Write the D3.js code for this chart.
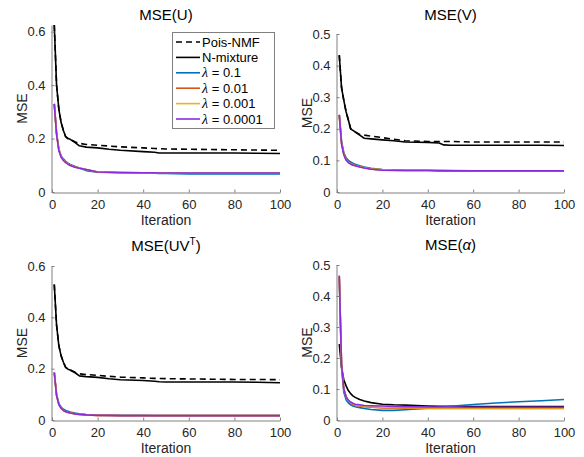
<!DOCTYPE html>
<html><head><meta charset="utf-8">
<script src="https://cdn.jsdelivr.net/npm/d3@7"></script>
<style>body{margin:0;background:#fff}svg{display:block;font-family:"Liberation Sans",Arial,sans-serif}</style>
</head><body><svg id="c" width="584" height="457"></svg>
<script>
const iters = [1,2,3,4,5,6,7,8,10,12,15,20,25,30,40,45,47,50,60,70,80,90,100];
const seriesNames = ["Pois-NMF","N-mixture","λ = 0.1","λ = 0.01","λ = 0.001","λ = 0.0001"];
const xTicks = [0,20,40,60,80,100];

// MSE(U)
const uPois  = [0.625,0.40,0.31,0.26,0.23,0.207,0.200,0.197,0.188,0.182,0.178,0.175,0.172,0.169,0.165,0.163,0.162,0.161,0.160,0.159,0.158,0.157,0.156];
const uNmix  = [0.625,0.40,0.31,0.26,0.23,0.207,0.200,0.197,0.186,0.173,0.168,0.165,0.160,0.156,0.151,0.149,0.146,0.146,0.146,0.146,0.146,0.145,0.144];
const uL1    = [0.33,0.22,0.16,0.135,0.124,0.115,0.108,0.103,0.096,0.090,0.080,0.074,0.073,0.072,0.071,0.070,0.069,0.069,0.068,0.068,0.068,0.068,0.068];
const uL2    = [0.33,0.22,0.16,0.133,0.121,0.112,0.106,0.101,0.094,0.090,0.084,0.075,0.074,0.073,0.072,0.072,0.071,0.071,0.071,0.071,0.071,0.071,0.071];
const uL3    = [0.33,0.218,0.158,0.132,0.120,0.111,0.105,0.100,0.094,0.090,0.084,0.075,0.074,0.073,0.072,0.072,0.071,0.071,0.071,0.071,0.071,0.071,0.071];
const uL4    = [0.33,0.215,0.155,0.130,0.118,0.110,0.104,0.099,0.093,0.089,0.084,0.075,0.074,0.073,0.072,0.072,0.071,0.071,0.071,0.071,0.071,0.071,0.071];
const uTicks = [0,0.2,0.4,0.6];

// MSE(V)
const vPois  = [0.433,0.33,0.29,0.254,0.228,0.200,0.195,0.190,0.182,0.180,0.177,0.172,0.167,0.162,0.160,0.160,0.160,0.160,0.158,0.158,0.158,0.158,0.158];
const vNmix  = [0.433,0.33,0.29,0.254,0.228,0.200,0.195,0.190,0.180,0.170,0.168,0.165,0.162,0.158,0.157,0.155,0.149,0.148,0.148,0.148,0.148,0.148,0.147];
const vL1    = [0.244,0.16,0.125,0.108,0.100,0.095,0.091,0.088,0.083,0.079,0.075,0.071,0.070,0.069,0.069,0.068,0.068,0.068,0.067,0.067,0.067,0.067,0.067];
const vL2    = [0.244,0.155,0.120,0.103,0.095,0.090,0.087,0.084,0.080,0.077,0.073,0.070,0.069,0.068,0.068,0.068,0.068,0.067,0.067,0.067,0.067,0.067,0.067];
const vL3    = [0.244,0.154,0.119,0.102,0.094,0.089,0.086,0.084,0.080,0.077,0.073,0.070,0.069,0.068,0.068,0.068,0.068,0.067,0.067,0.067,0.067,0.067,0.067];
const vL4    = [0.244,0.152,0.118,0.101,0.093,0.088,0.085,0.083,0.079,0.076,0.072,0.069,0.068,0.068,0.068,0.067,0.067,0.067,0.067,0.067,0.067,0.067,0.067];
const vTicks = [0,0.1,0.2,0.3,0.4,0.5];

// MSE(UV^T)
const wPois  = [0.528,0.37,0.29,0.25,0.225,0.205,0.198,0.195,0.186,0.180,0.177,0.174,0.170,0.167,0.164,0.162,0.162,0.161,0.160,0.159,0.158,0.158,0.157];
const wNmix  = [0.528,0.37,0.29,0.25,0.225,0.205,0.198,0.195,0.185,0.172,0.169,0.166,0.161,0.157,0.154,0.151,0.149,0.148,0.148,0.148,0.148,0.147,0.145];
const wL1    = [0.185,0.10,0.065,0.050,0.042,0.037,0.034,0.031,0.027,0.024,0.021,0.019,0.018,0.018,0.018,0.017,0.017,0.017,0.017,0.017,0.017,0.017,0.017];
const wL2    = [0.185,0.096,0.061,0.046,0.038,0.033,0.030,0.028,0.025,0.022,0.020,0.018,0.018,0.017,0.017,0.017,0.017,0.017,0.017,0.017,0.017,0.017,0.017];
const wL3    = [0.185,0.095,0.060,0.045,0.037,0.032,0.029,0.027,0.024,0.022,0.020,0.018,0.018,0.017,0.017,0.017,0.017,0.017,0.017,0.017,0.017,0.017,0.017];
const wL4    = [0.185,0.095,0.060,0.045,0.037,0.032,0.029,0.027,0.024,0.022,0.020,0.018,0.018,0.017,0.017,0.017,0.017,0.017,0.017,0.017,0.017,0.017,0.017];
const wTicks = [0,0.2,0.4,0.6];

// MSE(alpha)
const aNmix  = [0.245,0.17,0.13,0.11,0.095,0.085,0.078,0.073,0.066,0.061,0.056,0.051,0.049,0.048,0.045,0.044,0.044,0.044,0.043,0.043,0.043,0.043,0.043];
const aL1    = [0.46,0.17,0.09,0.065,0.055,0.049,0.045,0.043,0.040,0.037,0.034,0.031,0.031,0.033,0.038,0.041,0.042,0.044,0.050,0.055,0.059,0.062,0.066];
const aL2    = [0.465,0.18,0.10,0.074,0.062,0.054,0.050,0.047,0.045,0.043,0.041,0.039,0.038,0.038,0.037,0.037,0.037,0.037,0.037,0.037,0.037,0.037,0.037];
const aL3    = [0.465,0.18,0.10,0.075,0.063,0.056,0.052,0.049,0.047,0.045,0.043,0.041,0.040,0.040,0.039,0.039,0.039,0.039,0.039,0.039,0.039,0.039,0.039];
const aL4    = [0.465,0.18,0.10,0.075,0.064,0.058,0.054,0.051,0.049,0.047,0.046,0.045,0.044,0.043,0.042,0.042,0.042,0.042,0.041,0.041,0.041,0.041,0.041];
const aTicks = [0,0.1,0.2,0.3,0.4,0.5];

const colors = ["#000000","#000000","#0072BD","#D95319","#EDB120","#8a2be2"];
const dashes = ["6,4",null,null,null,null,null];

const svg = d3.select("#c");
const fmt = d => d === 0 ? "0" : d3.format(".1f")(d);
const axisCol = "#808080", textCol = "#262626";

function panel(id, makeTitle, x0, x1, yBot, yTop, ymax, yTicks, series, titleY, showLegend) {
  const x = d3.scaleLinear().domain([0,100]).range([x0,x1]);
  const y = d3.scaleLinear().domain([0,ymax]).range([yBot,yTop]);
  const g = svg.append("g");
  svg.append("clipPath").attr("id","clip"+id).append("rect")
    .attr("x",x0).attr("y",yTop-1).attr("width",x1-x0+1).attr("height",yBot-yTop+1);

  const line = d3.line().x((d,i)=>x(iters[i])).y(d=>y(d));
  const lg = g.append("g").attr("clip-path","url(#clip"+id+")");
  series.forEach((s,k)=>{
    if (!s) return;
    lg.append("path").datum(s).attr("d",line).attr("fill","none")
      .attr("stroke",colors[k]).attr("stroke-width",1.6)
      .attr("stroke-dasharray",dashes[k]).attr("stroke-linejoin","round");
  });

  const xa = d3.axisBottom(x).tickValues(xTicks).tickSize(-3).tickSizeOuter(0).tickPadding(7).tickFormat(d3.format("d"));
  const gx = g.append("g").attr("transform",`translate(0,${yBot+0.5})`).call(xa);
  const ya = d3.axisLeft(y).tickValues(yTicks).tickSize(-3).tickSizeOuter(0).tickPadding(6).tickFormat(fmt);
  const gy = g.append("g").attr("transform",`translate(${x0-0.5},0)`).call(ya);
  [gx,gy].forEach(a=>{
    a.attr("font-size",13).attr("font-family","Liberation Sans, Arial, sans-serif");
    a.select(".domain").attr("stroke",axisCol);
    a.selectAll(".tick line").attr("stroke",axisCol);
    a.selectAll(".tick text").attr("fill",textCol);
  });

  const cx = (x0+x1)/2, cy = (yBot+yTop)/2;
  g.append("text").attr("x",cx).attr("y",yBot+33).attr("text-anchor","middle")
    .attr("font-size",14).attr("fill",textCol).text("Iteration");
  g.append("text").attr("transform",`translate(${x0-25},${cy}) rotate(-90)`).attr("text-anchor","middle")
    .attr("font-size",14).attr("fill",textCol).text("MSE");
  const t = g.append("text").attr("x",cx).attr("y",titleY).attr("text-anchor","middle")
    .attr("font-size",15).attr("fill","#000");
  makeTitle(t);

  if (showLegend) {
    const lx = 172, ly = 32, lw = 102, lh = 96;
    const L = g.append("g");
    L.append("rect").attr("x",lx+0.5).attr("y",ly+0.5).attr("width",lw).attr("height",lh)
      .attr("fill","#fff").attr("stroke",axisCol);
    seriesNames.forEach((n,k)=>{
      const yy = ly + 10 + k*15.4;
      L.append("line").attr("x1",lx+4).attr("x2",lx+28).attr("y1",yy).attr("y2",yy)
        .attr("stroke",colors[k]).attr("stroke-width",1.6).attr("stroke-dasharray",dashes[k]);
      const tx = L.append("text").attr("x",lx+30).attr("y",yy+4.5).attr("font-size",13).attr("fill","#000");
      if (n.startsWith("λ")) {
        tx.append("tspan").attr("font-style","italic").attr("font-family","Liberation Serif, serif").attr("font-size",14).text("λ");
        tx.append("tspan").text("\u00a0=\u00a0" + n.split("= ")[1]);
      } else tx.text(n);
    });
  }
}

panel("U", t=>t.text("MSE(U)"), 52, 280, 192, 25, 0.625, uTicks, [uPois,uNmix,uL1,uL2,uL3,uL4], 20, true);
panel("V", t=>t.text("MSE(V)"), 337, 564, 192, 34, 0.5, vTicks, [vPois,vNmix,vL1,vL2,vL3,vL4], 20, false);
panel("W", t=>{
  t.append("tspan").text("MSE(UV");
  t.append("tspan").attr("font-size",10).attr("dy",-6).text("T");
  t.append("tspan").attr("dy",6).text(")");
}, 52, 280, 420, 266, 0.6, wTicks, [wPois,wNmix,wL1,wL2,wL3,wL4], 250.5, false);
panel("A", t=>{
  t.append("tspan").text("MSE(");
  t.append("tspan").attr("font-style","italic").text("α");
  t.append("tspan").text(")");
}, 337, 564, 420, 265, 0.5, aTicks, [null,aNmix,aL1,aL2,aL3,aL4], 250, false);
</script>
</body></html>
